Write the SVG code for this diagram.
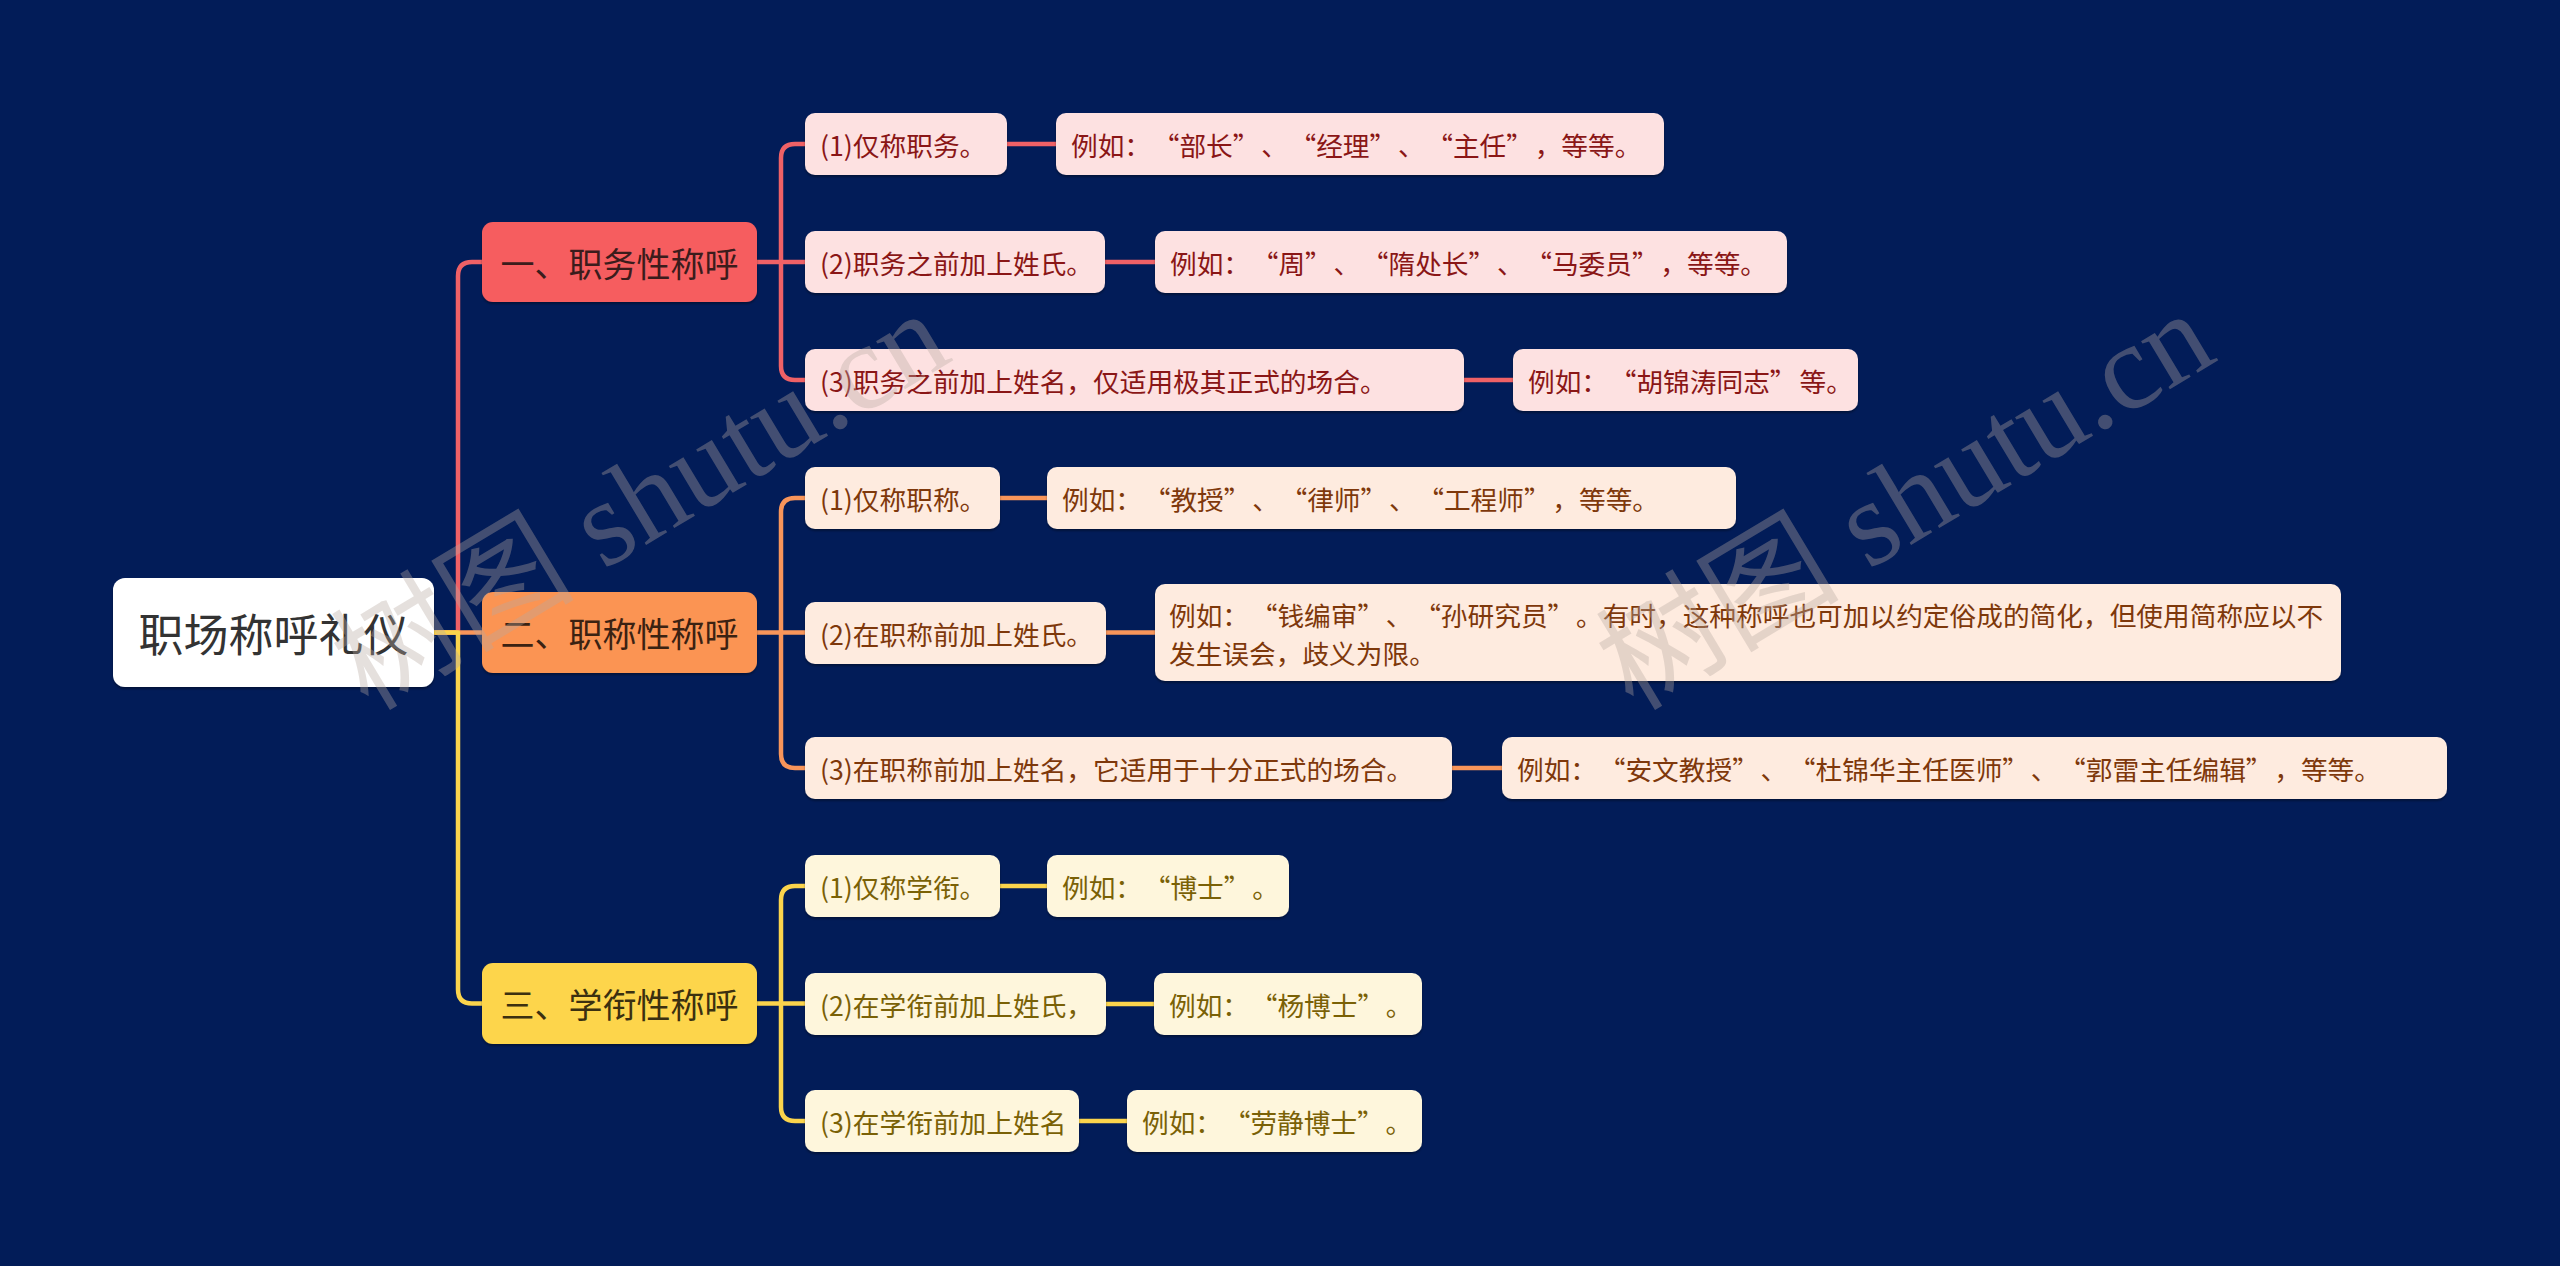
<svg xmlns="http://www.w3.org/2000/svg" width="2560" height="1266" viewBox="0 0 2560 1266">
<defs>
<filter id="sh" x="-5%" y="-20%" width="110%" height="150%">
<feDropShadow dx="0" dy="2" stdDeviation="1.2" flood-color="#000" flood-opacity="0.35"/>
</filter>
<style>
text{font-family:"Noto Sans CJK SC","Microsoft YaHei",sans-serif;dominant-baseline:central}
.root rect{fill:#ffffff;filter:url(#sh)}
.root text{font-size:45px;fill:#333333;text-anchor:middle}
.br text{font-size:34px;text-anchor:middle}
.br rect{filter:url(#sh)}
.sub rect{filter:url(#sh)}
.sub text{font-size:26.7px}
.r1 rect{fill:#f65d5f}.r1 text{fill:#3b1c1c}
.o1 rect{fill:#fb9452}.o1 text{fill:#3b2212}
.y1 rect{fill:#fdd54c}.y1 text{fill:#3b3010}
.r2 rect{fill:#fde1e1}.r2 text{fill:#8a1616}
.o2 rect{fill:#feebdf}.o2 text{fill:#7e380b}
.y2 rect{fill:#fef6dc}.y2 text{fill:#7a6106}
.c{fill:none;stroke-width:4.5;stroke-linejoin:round}
.cr{stroke:#ef6166}.co{stroke:#f8955a}.cy{stroke:#fbd44c}
.wm{font-family:"Liberation Serif","Noto Sans CJK SC",serif;font-size:122px;fill:#b8aaa0;fill-opacity:0.36;dominant-baseline:alphabetic}
</style>
</defs>
<rect width="2560" height="1266" fill="#021c58"/>
<g id="connectors">
<path class="c cr" d="M434 632.5 H458 V276 Q458 262 472 262 H482"/>
<path class="c co" d="M434 632.5 H482"/>
<path class="c cy" d="M434 632.5 H458 V989.5 Q458 1003.5 472 1003.5 H482"/>
<path class="c cr" d="M757 262 H781 V158 Q781 144 795 144 H805 M757 262 H805 M781 262 V366 Q781 380 795 380 H805"/>
<path class="c cr" d="M1007 144 H1056 M1105 262 H1155 M1464 380 H1513"/>
<path class="c co" d="M757 632.5 H781 V512 Q781 498 795 498 H805 M757 632.5 H805 M781 632.5 V754 Q781 768 795 768 H805"/>
<path class="c co" d="M1000 498 H1047 M1106 632.5 H1155 M1452 768 H1502"/>
<path class="c cy" d="M757 1003.5 H781 V900 Q781 886 795 886 H805 M757 1003.5 H805 M781 1003.5 V1107 Q781 1121 795 1121 H805"/>
<path class="c cy" d="M1000 886 H1047 M1106 1004 H1154 M1079 1121 H1127"/>
</g>
<g id="root" class="root"><rect x="113" y="578" width="321" height="109" rx="12"/><text x="273.5" y="632.5">职场称呼礼仪</text></g>
<g id="b1" class="br r1"><rect x="482" y="222" width="275" height="80" rx="11"/><text x="619.5" y="262">一、职务性称呼</text></g>
<g id="b2" class="br o1"><rect x="482" y="592" width="275" height="81" rx="11"/><text x="619.5" y="632.5">二、职称性称呼</text></g>
<g id="b3" class="br y1"><rect x="482" y="963" width="275" height="81" rx="11"/><text x="619.5" y="1003.5">三、学衔性称呼</text></g>

<g id="b1s1" class="sub r2"><rect x="805" y="113" width="202" height="62" rx="10"/><text x="820" y="144">(1)仅称职务。</text></g>
<g id="b1e1" class="sub r2"><rect x="1056" y="113" width="608" height="62" rx="10"/><text x="1071" y="144">例如：<tspan dx="15">“</tspan>部长”<tspan dx="15">、</tspan><tspan dx="15">“</tspan>经理”<tspan dx="15">、</tspan><tspan dx="15">“</tspan>主任”<tspan dx="15">，</tspan>等等。</text></g>
<g id="b1s2" class="sub r2"><rect x="805" y="231" width="300" height="62" rx="10"/><text x="820" y="262">(2)职务之前加上姓氏。</text></g>
<g id="b1e2" class="sub r2"><rect x="1155" y="231" width="632" height="62" rx="10"/><text x="1170" y="262">例如：<tspan dx="15">“</tspan>周”<tspan dx="15">、</tspan><tspan dx="15">“</tspan>隋处长”<tspan dx="15">、</tspan><tspan dx="15">“</tspan>马委员”<tspan dx="15">，</tspan>等等。</text></g>
<g id="b1s3" class="sub r2"><rect x="805" y="349" width="659" height="62" rx="10"/><text x="820" y="380">(3)职务之前加上姓名，仅适用极其正式的场合。</text></g>
<g id="b1e3" class="sub r2"><rect x="1513" y="349" width="345" height="62" rx="10"/><text x="1528" y="380">例如：<tspan dx="15">“</tspan>胡锦涛同志”<tspan dx="3">等</tspan>。</text></g>

<g id="b2s1" class="sub o2"><rect x="805" y="467" width="195" height="62" rx="10"/><text x="820" y="498">(1)仅称职称。</text></g>
<g id="b2e1" class="sub o2"><rect x="1047" y="467" width="689" height="62" rx="10"/><text x="1062" y="498">例如：<tspan dx="15">“</tspan>教授”<tspan dx="15">、</tspan><tspan dx="15">“</tspan>律师”<tspan dx="15">、</tspan><tspan dx="15">“</tspan>工程师”<tspan dx="15">，</tspan>等等。</text></g>
<g id="b2s2" class="sub o2"><rect x="805" y="602" width="301" height="62" rx="10"/><text x="820" y="633">(2)在职称前加上姓氏。</text></g>
<g id="b2e2" class="sub o2"><rect x="1155" y="584" width="1186" height="97" rx="10"/><text x="1169" y="614">例如：<tspan dx="15">“</tspan>钱编审”<tspan dx="15">、</tspan><tspan dx="15">“</tspan>孙研究员”<tspan dx="15">。</tspan>有时，这种称呼也可加以约定俗成的简化，但使用简称应以不</text><text x="1169" y="652">发生误会，歧义为限。</text></g>
<g id="b2s3" class="sub o2"><rect x="805" y="737" width="647" height="62" rx="10"/><text x="820" y="768">(3)在职称前加上姓名，它适用于十分正式的场合。</text></g>
<g id="b2e3" class="sub o2"><rect x="1502" y="737" width="945" height="62" rx="10"/><text x="1517" y="768">例如：<tspan dx="15">“</tspan>安文教授”<tspan dx="15">、</tspan><tspan dx="15">“</tspan>杜锦华主任医师”<tspan dx="15">、</tspan><tspan dx="15">“</tspan>郭雷主任编辑”<tspan dx="15">，</tspan>等等。</text></g>

<g id="b3s1" class="sub y2"><rect x="805" y="855" width="195" height="62" rx="10"/><text x="820" y="886">(1)仅称学衔。</text></g>
<g id="b3e1" class="sub y2"><rect x="1047" y="855" width="242" height="62" rx="10"/><text x="1062" y="886">例如：<tspan dx="15">“</tspan>博士”<tspan dx="15">。</tspan></text></g>
<g id="b3s2" class="sub y2"><rect x="805" y="973" width="301" height="62" rx="10"/><text x="820" y="1004">(2)在学衔前加上姓氏，</text></g>
<g id="b3e2" class="sub y2"><rect x="1154" y="973" width="268" height="62" rx="10"/><text x="1169" y="1004">例如：<tspan dx="15">“</tspan>杨博士”<tspan dx="15">。</tspan></text></g>
<g id="b3s3" class="sub y2"><rect x="805" y="1090" width="274" height="62" rx="10"/><text x="820" y="1121">(3)在学衔前加上姓名</text></g>
<g id="b3e3" class="sub y2"><rect x="1127" y="1090" width="295" height="62" rx="10"/><text x="1142" y="1121">例如：<tspan dx="15">“</tspan>劳静博士”<tspan dx="15">。</tspan></text></g>

<g id="watermark">
<text class="wm" transform="translate(368 712) rotate(-31)">树图 shutu.cn</text>
<text class="wm" transform="translate(1633 712) rotate(-31)">树图 shutu.cn</text>
</g>
</svg>
